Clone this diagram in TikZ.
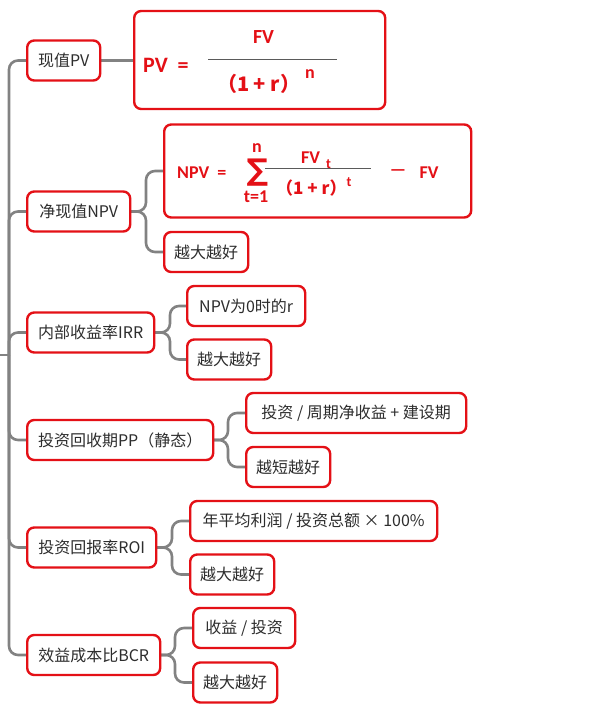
\documentclass[tikz,border=0pt]{standalone}
\usepackage{fontspec}
\setmainfont{Noto Sans CJK SC}
\newfontfamily\cjk{Noto Sans CJK SC}
\newfontfamily\fml{Carlito}
\newfontfamily\dv{DejaVu Sans}
\usetikzlibrary{calc}
\definecolor{bred}{RGB}{228,16,22}
\definecolor{lgray}{RGB}{130,130,130}
\definecolor{txt}{RGB}{45,45,45}
\definecolor{fline}{RGB}{90,90,90}
\tikzset{
  box/.style={draw=bred, line width=2.4pt, rounded corners=7pt, fill=white, text=txt,
    font=\cjk\fontsize{16}{18}\selectfont, minimum height=40pt, inner sep=0pt, anchor=west, align=center},
  conn/.style={draw=lgray, line width=2.6pt, rounded corners=9pt},
  ft/.style={text=bred, inner sep=0pt, anchor=center},
  fb/.style={ft, font=\fml\bfseries\fontsize{18}{20}\selectfont},
  fs/.style={ft, font=\fml\bfseries\fontsize{14}{16}\selectfont},
  fc/.style={ft, font=\cjk\bfseries\fontsize{20}{22}\selectfont},
  fcs/.style={ft, font=\cjk\bfseries\fontsize{17}{19}\selectfont},
}
\begin{document}
\begin{tikzpicture}[x=1pt,y=-1pt]
\useasboundingbox (0,0) rectangle (600,714);
% junction coordinates
\coordinate (root) at (0,355);
\coordinate (tr) at (9,355);
\coordinate (jn) at (146,0);
\coordinate (ji) at (170,0);
\coordinate (jp) at (228,0);
\coordinate (jr) at (172,0);
\coordinate (jb) at (175,0);

% connectors (drawn first)
\draw[conn] (root) -- (tr);
\foreach \c/\y in {pv/60.5,npv/211.5,irr/332.5,pp/440,roi/547.5,bcr/655}{
  \coordinate (t\c) at (26,\y);
  \draw[conn] (tr) |- (t\c);
}
\coordinate (pvR) at (99,60.5);
\coordinate (pvfL) at (133,60.5);
\draw[conn] (pvR) -- (pvfL);

\coordinate (npvR) at (129,211.5);
\coordinate (npvfL) at (163,171);
\coordinate (npvgL) at (163,252);
\draw[conn] (npvR) -- (npvR -| jn) |- (npvfL);
\draw[conn] (npvR) -- (npvR -| jn) |- (npvgL);

\coordinate (irrR) at (153,332.5);
\coordinate (irr1L) at (186,306);
\coordinate (irr2L) at (186,359.5);
\draw[conn] (irrR) -- (irrR -| ji) |- (irr1L);
\draw[conn] (irrR) -- (irrR -| ji) |- (irr2L);

\coordinate (ppR) at (212,440);
\coordinate (pp1L) at (245,413);
\coordinate (pp2L) at (245,467);
\draw[conn] (ppR) -- (ppR -| jp) |- (pp1L);
\draw[conn] (ppR) -- (ppR -| jp) |- (pp2L);

\coordinate (roiR) at (155,547.5);
\coordinate (roi1L) at (189,521);
\coordinate (roi2L) at (189,574.5);
\draw[conn] (roiR) -- (roiR -| jr) |- (roi1L);
\draw[conn] (roiR) -- (roiR -| jr) |- (roi2L);

\coordinate (bcrR) at (159,655);
\coordinate (bcr1L) at (192,628);
\coordinate (bcr2L) at (192,682.5);
\draw[conn] (bcrR) -- (bcrR -| jb) |- (bcr1L);
\draw[conn] (bcrR) -- (bcrR -| jb) |- (bcr2L);

% boxes
\node[box, minimum width=73pt] (pv) at (26,60.5) {现值PV};
\node[box, minimum width=251pt, minimum height=98pt] (pvf) at (133,60) {};
\node[box, minimum width=103pt] (npv) at (26,211.5) {净现值NPV};
\node[box, minimum width=307pt, minimum height=93pt] (npvf) at (163,171) {};
\node[box, minimum width=84pt] (npvg) at (163,252) {越大越好};
\node[box, minimum width=127pt] (irr) at (26,332.5) {内部收益率IRR};
\node[box, minimum width=118pt] (irr1) at (186,306) {NPV为0时的r};
\node[box, minimum width=84pt] (irr2) at (186,359.5) {越大越好};
\node[box, minimum width=186pt] (pp) at (26,440) {投资回收期PP（静态）};
\node[box, minimum width=220pt] (pp1) at (245,413) {投资 / 周期净收益 + 建设期};
\node[box, minimum width=84pt] (pp2) at (245,467) {越短越好};
\node[box, minimum width=129pt] (roi) at (26,547.5) {投资回报率ROI};
\node[box, minimum width=247pt] (roi1) at (189,521) {年平均利润 / 投资总额 × 100\%};
\node[box, minimum width=84pt] (roi2) at (189,574.5) {越大越好};
\node[box, minimum width=133pt] (bcr) at (26,655) {效益成本比BCR};
\node[box, minimum width=102pt] (bcr1) at (192,628) {收益 / 投资};
\node[box, minimum width=84pt] (bcr2) at (192,682.5) {越大越好};

% PV formula
\node[ft, font=\fml\bfseries\fontsize{22}{24}\selectfont, anchor=west] (pvl) at (143,65) {PV\ \ =};
\node[fb, font=\fml\bfseries\fontsize{20}{22}\selectfont] (pvn) at (263.5,37) {FV};
\draw[fline, line width=1pt] (208,59.5) -- (337,59.5);
\node[fc, anchor=base west] (pvd) at (217,92) {（1 + r）\kern5pt\raisebox{13.5pt}{\fml\fontsize{18}{20}\selectfont n}};

% NPV formula
\node[fb, anchor=west] (npl) at (177,173) {NPV\ \ =};
\node[ft, font=\dv\bfseries\fontsize{30}{32}\selectfont] (sig) at (257.5,173) {∑};
\node[fb] (sn) at (257,148) {n};
\node[fb] (st) at (256,197) {t=1};
\draw[fline, line width=1pt] (265,168.7) -- (371,168.7);
\node[fb, anchor=base west] (nfv) at (301,164) {FV\kern6pt\raisebox{-5pt}{\fontsize{14}{16}\selectfont t}};
\node[fcs, anchor=base west] (nd) at (276,194) {（1 + r）\kern0pt\raisebox{8pt}{\fml\fontsize{14}{16}\selectfont t}};
\node[fb] (nm) at (398,173) {—};
\node[fb] (nfv2) at (429,173) {FV};
\end{tikzpicture}
\end{document}
